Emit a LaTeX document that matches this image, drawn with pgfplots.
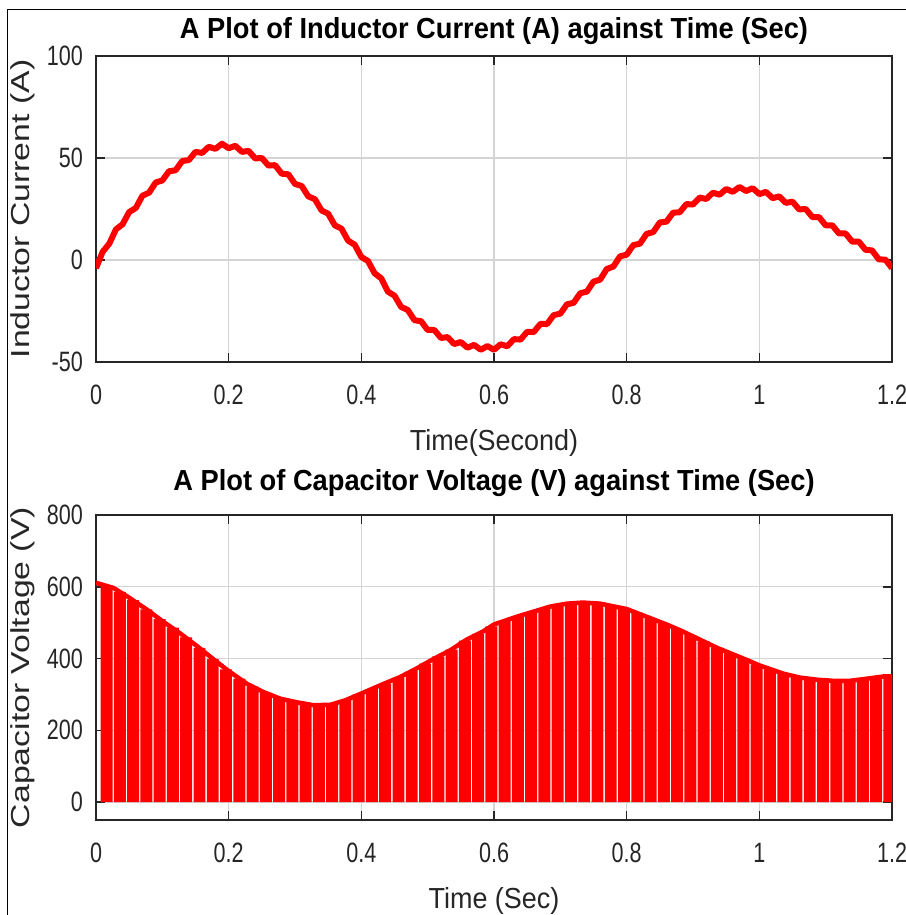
\documentclass[border=0pt]{standalone}
\usepackage{pgfplots}
\pgfplotsset{compat=1.18}
\usepackage{fontspec}
\setmainfont{Liberation Sans}
\newfontfamily\tickfont[FakeStretch=0.77]{Liberation Sans}
\newfontfamily\titlefont[FakeStretch=0.94]{Liberation Sans}
\newfontfamily\xlabfont[FakeStretch=0.93]{Liberation Sans}
\newfontfamily\ylabfont[FakeStretch=1.3]{Liberation Sans}
\definecolor{axgray}{RGB}{38,38,38}
\definecolor{gridgray}{RGB}{212,212,212}
\pgfplotsset{
  myax/.style={
    scale only axis, width=796pt,
    xmin=0, xmax=1.2,
    xtick={0,0.2,0.4,0.6,0.8,1,1.2},
    xticklabels={0,0.2,0.4,0.6,0.8,1,1.2},
    grid=major, major grid style={line width=1.3pt, gridgray},
    axis line style={line width=1.6pt, axgray},
    major tick style={line width=1.6pt, axgray},
    major tick length=9pt,
    tick align=inside,
    /pgf/number format/assume math mode=true,
    tick label style={font=\tickfont\fontsize{28}{28}\selectfont, text=axgray},
    xticklabel style={anchor=north, inner sep=0pt, yshift=-23pt},
    yticklabel style={anchor=east, inner sep=0pt, xshift=-13pt},
    title style={font=\titlefont\bfseries\fontsize{29}{29}\selectfont, anchor=base, at={(axis description cs:0.5,1)}},
    xlabel style={font=\xlabfont\fontsize{29}{29}\selectfont, at={(axis description cs:0.5,0)}, anchor=base, text=axgray, yshift=-88pt},
    ylabel style={font=\ylabfont\fontsize{26}{26}\selectfont, at={(axis description cs:-0.0923,0.5)}, anchor=center, text=axgray},
  }
}
\begin{document}
\begin{tikzpicture}
\path[use as bounding box] (0pt,0pt) rectangle (905pt,-915pt);
\draw[line width=1pt, black] (7.5pt,-940pt) -- (7.5pt,-9.5pt) -- (940pt,-9.5pt);

\begin{axis}[myax, at={(96pt,-362pt)}, anchor=south west, height=306pt,
  ymin=-50, ymax=100, ytick={-50,0,50,100}, yticklabels={-50,0,50,100},
  title={A Plot of Inductor Current (A) against Time (Sec)}, title style={yshift=12pt},
  xlabel={Time(Second)}, ylabel={Inductor Current (A)}]
\addplot[red, line width=6pt, line join=round] coordinates {
(0.00,-4) (0.01,4) (0.02,8) (0.03,15) (0.04,17.5) (0.05,23.5) (0.06,25.5) (0.07,31.5) (0.08,33) (0.09,38)
(0.10,39) (0.11,43.5) (0.12,44) (0.13,48.5) (0.14,49) (0.15,53) (0.16,52.5) (0.17,55.5) (0.18,54.5) (0.19,57)
(0.20,54.8) (0.21,56) (0.22,53) (0.23,53.5) (0.24,49.8) (0.25,50) (0.26,46.3) (0.27,46.5) (0.28,42.3) (0.29,42)
(0.30,37.3) (0.31,36.3) (0.32,31.2) (0.33,29.8) (0.34,24.3) (0.35,22.7) (0.36,17) (0.37,15.4) (0.38,9.5) (0.39,7.5)
(0.40,1.5) (0.41,-0.5) (0.42,-6.5) (0.43,-9) (0.44,-15.5) (0.45,-17.5) (0.46,-23) (0.47,-24.5) (0.48,-29.5) (0.49,-30)
(0.50,-34.3) (0.51,-34.3) (0.52,-38.2) (0.53,-37.8) (0.54,-41.2) (0.55,-40.2) (0.56,-43) (0.57,-41.6) (0.58,-44) (0.59,-42.2)
(0.60,-44) (0.61,-41.3) (0.62,-42.3) (0.63,-38.8) (0.64,-39) (0.65,-35.2) (0.66,-35.3) (0.67,-31.3) (0.68,-31.4) (0.69,-27)
(0.70,-26.3) (0.71,-21.7) (0.72,-21) (0.73,-16.3) (0.74,-15.5) (0.75,-10.6) (0.76,-9.6) (0.77,-4.4) (0.78,-3.2) (0.79,1.8)
(0.80,2.6) (0.81,7.3) (0.82,8) (0.83,12.8) (0.84,13.7) (0.85,18.4) (0.86,18.8) (0.87,23.2) (0.88,23.4) (0.89,27.4)
(0.90,27.2) (0.91,30.6) (0.92,29.9) (0.93,33) (0.94,32) (0.95,34.8) (0.96,33.4) (0.97,35.8) (0.98,33.8) (0.99,35.2)
(1.00,32.3) (1.01,33.4) (1.02,30.3) (1.03,31.2) (1.04,28) (1.05,28.6) (1.06,24.8) (1.07,25) (1.08,21) (1.09,21)
(1.10,17) (1.11,17) (1.12,13) (1.13,13) (1.14,9) (1.15,9) (1.16,5) (1.17,4.7) (1.18,0.3) (1.19,0.2) (1.20,-4)
};
\end{axis}

\begin{axis}[myax, at={(96pt,-820pt)}, anchor=south west, height=305pt,
  ymin=-50, ymax=800, ytick={0,200,400,600,800}, yticklabels={0,200,400,600,800},
  title={A Plot of Capacitor Voltage (V) against Time (Sec)}, title style={yshift=19pt},
  xlabel={Time (Sec)}, ylabel={Capacitor Voltage (V)}]
\addplot[ybar, bar width=0.018, fill=red, draw=none] coordinates {
(0.016,603) (0.036,586) (0.056,563) (0.076,537) (0.096,510) (0.116,486) (0.136,459) (0.156,430) (0.176,399) (0.196,370)
(0.216,344) (0.236,322) (0.256,304) (0.276,290) (0.296,280) (0.316,273) (0.336,270) (0.356,272) (0.376,285) (0.396,300)
(0.416,315) (0.436,331) (0.456,347) (0.476,365) (0.496,386) (0.516,406) (0.536,425) (0.556,450) (0.576,469) (0.596,490)
(0.616,506) (0.636,518) (0.656,529) (0.676,540) (0.696,549) (0.716,554) (0.736,556) (0.756,554) (0.776,548) (0.796,540)
(0.816,527) (0.836,512) (0.856,498) (0.876,482) (0.896,465) (0.916,448) (0.936,430) (0.956,415) (0.976,400) (0.996,384)
(1.016,370) (1.036,358) (1.056,349) (1.076,343) (1.096,340) (1.116,338) (1.136,338) (1.156,342) (1.176,347) (1.196,350)
};
\addplot[red, line width=4.5pt, line join=round] coordinates {
(0,611) (0.026,597) (0.048,572) (0.077,536) (0.101,503) (0.127,470) (0.152,435) (0.177,398) (0.2,365) (0.228,329)
(0.252,307) (0.278,288) (0.303,278) (0.328,270) (0.353,271) (0.375,283) (0.398,301) (0.433,329) (0.458,348) (0.484,373)
(0.508,398) (0.534,423) (0.559,453) (0.584,476) (0.6,495) (0.635,517) (0.66,531) (0.685,545) (0.71,553) (0.734,556)
(0.76,553) (0.8,538) (0.835,513) (0.86,495) (0.884,476) (0.91,453) (0.936,430) (0.96,412) (0.985,393) (1.0,381)
(1.036,358) (1.061,347) (1.087,341) (1.111,338) (1.137,338) (1.163,344) (1.187,350) (1.2,350)
};
\end{axis}
\end{tikzpicture}
\end{document}
